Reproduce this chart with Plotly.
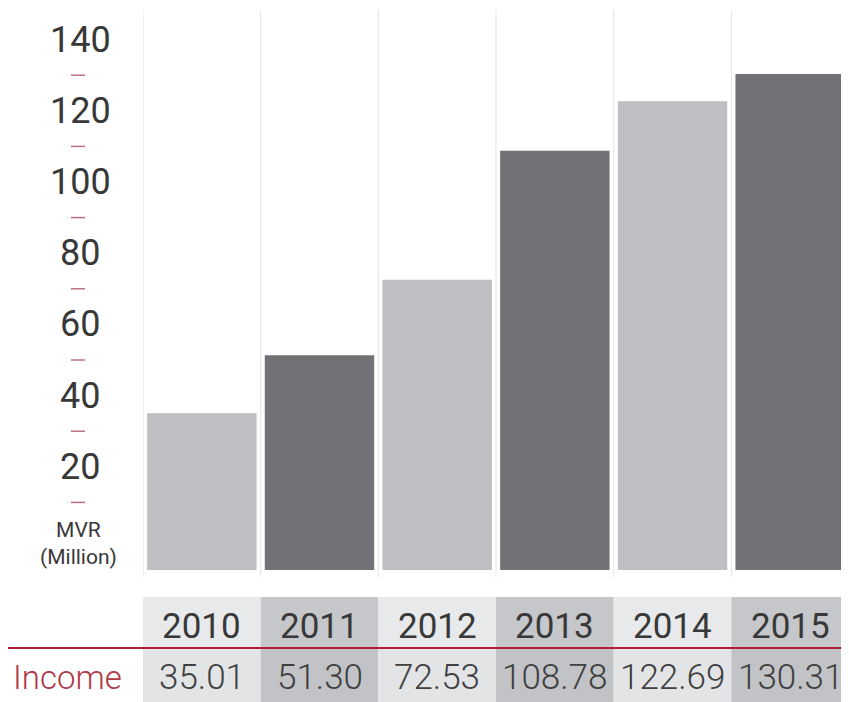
import plotly.graph_objects as go

years = ["2010", "2011", "2012", "2013", "2014", "2015"]
income = [35.01, 51.30, 72.53, 108.78, 122.69, 130.31]
income_labels = ["35.01", "51.30", "72.53", "108.78", "122.69", "130.31"]
y_ticks = [20, 40, 60, 80, 100, 120, 140]
y_minor = [10, 30, 50, 70, 90, 110, 130]

# page offset (browser body margin)
OFF = 8
W, H = 849 - OFF, 702 - OFF
L, R, T = 143 - OFF, 0, 10 - OFF
B = H - (577 - OFF)
PW = W - L - R
PH = H - T - B
BASE = -9.0

light_bar, dark_bar = "#bebfc3", "#717276"
bar_colors = [light_bar if i % 2 == 0 else dark_bar for i in range(len(years))]

def px_x(p):
    return (p - OFF - L) / PW

def px_y(p):
    return (H - B - (p - OFF)) / PH

xs = list(range(len(years)))

fig = go.Figure()
fig.add_trace(go.Bar(
    x=xs, y=[v - BASE for v in income], base=BASE,
    marker=dict(color=bar_colors, line=dict(width=0)),
    width=0.93, hoverinfo="skip",
))

shapes = []
annotations = []

for i in xs:
    shapes.append(dict(type="line", xref="x", yref="paper", x0=i - 0.5, x1=i - 0.5,
                       y0=0, y1=1, line=dict(color="#e3e3e3", width=1), layer="below"))

for v in y_minor:
    shapes.append(dict(type="line", xref="paper", yref="y", x0=px_x(71), x1=px_x(85),
                       y0=v, y1=v, line=dict(color="#c07080", width=1.5)))

for v in y_ticks:
    annotations.append(dict(xref="paper", yref="y", x=px_x(80), y=v, text=str(v),
                            showarrow=False, xanchor="center", yanchor="middle",
                            font=dict(family="Roboto", size=36, color="#383838")))

annotations.append(dict(xref="paper", yref="paper", x=px_x(78), y=px_y(543),
                        text="MVR<br>(Million)", showarrow=False, xanchor="center",
                        yanchor="middle", align="center",
                        font=dict(family="Roboto", size=21, color="#383838")))

head_light, head_dark = "#e8e9eb", "#c6c7ca"
val_light, val_dark = "#e3e4e6", "#c2c3c6"
for i in xs:
    shapes.append(dict(type="rect", xref="x", yref="paper", x0=i - 0.5, x1=i + 0.5,
                       y0=px_y(648), y1=px_y(597), line=dict(width=0),
                       fillcolor=head_light if i % 2 == 0 else head_dark))
    shapes.append(dict(type="rect", xref="x", yref="paper", x0=i - 0.5, x1=i + 0.5,
                       y0=px_y(702), y1=px_y(649), line=dict(width=0),
                       fillcolor=val_light if i % 2 == 0 else val_dark))
    annotations.append(dict(xref="x", yref="paper", x=i, y=px_y(627), text=years[i],
                            showarrow=False, xanchor="center", yanchor="middle",
                            font=dict(family="Roboto", size=35, color="#383838")))
    annotations.append(dict(xref="x", yref="paper", x=i, y=px_y(677), text=income_labels[i],
                            showarrow=False, xanchor="center", yanchor="middle",
                            font=dict(family="Roboto", size=35, color="#404040", weight=300)))

shapes.append(dict(type="line", xref="paper", yref="paper", x0=px_x(0), x1=1,
                   y0=px_y(648), y1=px_y(648), line=dict(color="#b21f2f", width=2)))

annotations.append(dict(xref="paper", yref="paper", x=px_x(11), y=px_y(677), text="Income",
                        showarrow=False, xanchor="left", yanchor="middle",
                        font=dict(family="Roboto", size=33, color="#b03848", weight=300)))

ZERO_PX, SCALE = 538 - OFF, 3.56
ymin = -((H - B) - ZERO_PX) / SCALE
ymax = (ZERO_PX - T) / SCALE

fig.update_layout(
    width=W, height=H,
    margin=dict(l=L, r=R, t=T, b=B),
    paper_bgcolor="white", plot_bgcolor="white",
    showlegend=False,
    bargap=0.07,
    xaxis=dict(range=[-0.5, 5.5], showgrid=False, zeroline=False, showticklabels=False,
               showline=False, fixedrange=True),
    yaxis=dict(range=[ymin, ymax], showgrid=False, zeroline=False, showticklabels=False,
               showline=False, fixedrange=True),
    shapes=shapes,
    annotations=annotations,
)

fig.write_html("out.html")
